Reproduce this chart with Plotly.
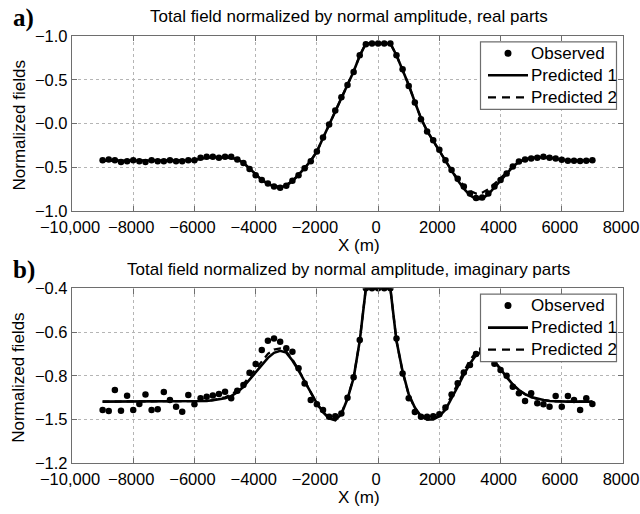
import plotly.graph_objects as go

# Profile positions (m)
x_pos = [-9000 + 200 * i for i in range(81)]

# Real parts: observed and two predicted models
obs_re = [-0.42, -0.41, -0.42, -0.44, -0.43, -0.42, -0.43, -0.44, -0.42, -0.43,
          -0.43, -0.42, -0.43, -0.43, -0.42, -0.42, -0.39, -0.38, -0.38, -0.39,
          -0.38, -0.38, -0.41, -0.45, -0.52, -0.59, -0.645, -0.685, -0.72, -0.733,
          -0.71, -0.655, -0.59, -0.51, -0.43, -0.32, -0.16, -0.01, 0.15, 0.30,
          0.44, 0.59, 0.78, 0.905, 0.915, 0.915, 0.915, 0.915, 0.78, 0.62,
          0.43, 0.24, 0.05, -0.09, -0.19, -0.30, -0.42, -0.53, -0.63, -0.72,
          -0.80, -0.85, -0.845, -0.80, -0.72, -0.645, -0.57, -0.49, -0.435, -0.41,
          -0.40, -0.39, -0.38, -0.39, -0.40, -0.415, -0.425, -0.425, -0.428, -0.425,
          -0.42]
pred1_re = [-0.425, -0.425, -0.425, -0.425, -0.425, -0.425, -0.425, -0.425, -0.425, -0.425,
            -0.425, -0.425, -0.425, -0.425, -0.425, -0.42, -0.40, -0.39, -0.385, -0.385,
            -0.385, -0.39, -0.41, -0.45, -0.515, -0.585, -0.645, -0.69, -0.72, -0.73,
            -0.71, -0.66, -0.59, -0.51, -0.425, -0.32, -0.165, -0.01, 0.15, 0.30,
            0.445, 0.595, 0.775, 0.915, 0.915, 0.915, 0.915, 0.915, 0.78, 0.62,
            0.44, 0.245, 0.06, -0.085, -0.20, -0.315, -0.43, -0.545, -0.65, -0.745,
            -0.82, -0.865, -0.86, -0.81, -0.73, -0.65, -0.57, -0.495, -0.44, -0.41,
            -0.395, -0.388, -0.385, -0.39, -0.40, -0.415, -0.425, -0.425, -0.425, -0.425,
            -0.425]
pred2_re = [-0.425, -0.425, -0.425, -0.425, -0.425, -0.425, -0.425, -0.425, -0.425, -0.425,
            -0.425, -0.425, -0.425, -0.425, -0.425, -0.42, -0.40, -0.39, -0.385, -0.385,
            -0.385, -0.39, -0.41, -0.45, -0.515, -0.585, -0.645, -0.69, -0.715, -0.72,
            -0.70, -0.655, -0.59, -0.51, -0.425, -0.32, -0.165, -0.01, 0.15, 0.30,
            0.445, 0.595, 0.775, 0.915, 0.915, 0.915, 0.915, 0.915, 0.78, 0.62,
            0.44, 0.245, 0.06, -0.085, -0.20, -0.315, -0.43, -0.54, -0.63, -0.71,
            -0.77, -0.80, -0.79, -0.75, -0.69, -0.625, -0.56, -0.49, -0.44, -0.41,
            -0.395, -0.388, -0.385, -0.39, -0.40, -0.415, -0.425, -0.425, -0.425, -0.425,
            -0.425]

# Imaginary parts: observed and two predicted models
obs_im = [-0.956, -0.961, -0.865, -0.960, -0.891, -0.956, -0.929, -0.885, -0.956, -0.953,
          -0.874, -0.911, -0.941, -0.964, -0.888, -0.930, -0.903, -0.896, -0.890, -0.883,
          -0.873, -0.903, -0.868, -0.842, -0.786, -0.746, -0.682, -0.640, -0.629, -0.644,
          -0.674, -0.690, -0.766, -0.835, -0.911, -0.930, -0.956, -0.987, -0.985, -0.972,
          -0.900, -0.807, -0.636, -0.40, -0.40, -0.40, -0.40, -0.40, -0.629, -0.789,
          -0.903, -0.965, -0.987, -0.987, -0.985, -0.976, -0.945, -0.885, -0.834, -0.785,
          -0.751, -0.700, -0.680, -0.720, -0.745, -0.774, -0.800, -0.850, -0.880, -0.915,
          -0.880, -0.926, -0.930, -0.941, -0.892, -0.941, -0.892, -0.911, -0.956, -0.903,
          -0.929]
pred1_im = [-0.918, -0.918, -0.918, -0.918, -0.918, -0.918, -0.918, -0.918, -0.918, -0.918,
            -0.918, -0.918, -0.918, -0.918, -0.918, -0.918, -0.917, -0.915, -0.912, -0.908,
            -0.903, -0.893, -0.875, -0.850, -0.818, -0.785, -0.750, -0.718, -0.695, -0.686,
            -0.694, -0.730, -0.775, -0.825, -0.875, -0.926, -0.965, -0.995, -1.003, -0.975,
            -0.905, -0.810, -0.640, -0.40, -0.40, -0.40, -0.40, -0.40, -0.640, -0.780,
            -0.885, -0.945, -0.985, -1.000, -1.000, -0.985, -0.955, -0.905, -0.850, -0.795,
            -0.745, -0.705, -0.688, -0.700, -0.735, -0.775, -0.810, -0.840, -0.865, -0.884,
            -0.897, -0.905, -0.911, -0.915, -0.917, -0.918, -0.918, -0.918, -0.918, -0.918,
            -0.918]
pred2_im = [-0.918, -0.918, -0.918, -0.918, -0.918, -0.918, -0.918, -0.918, -0.918, -0.918,
            -0.918, -0.918, -0.918, -0.918, -0.918, -0.918, -0.917, -0.915, -0.911, -0.905,
            -0.898, -0.886, -0.866, -0.838, -0.804, -0.768, -0.732, -0.700, -0.680, -0.675,
            -0.688, -0.725, -0.772, -0.825, -0.878, -0.928, -0.967, -0.995, -1.000, -0.972,
            -0.902, -0.808, -0.640, -0.40, -0.40, -0.40, -0.40, -0.40, -0.640, -0.782,
            -0.887, -0.948, -0.987, -1.000, -0.998, -0.980, -0.945, -0.890, -0.832, -0.776,
            -0.728, -0.692, -0.678, -0.692, -0.730, -0.772, -0.808, -0.840, -0.866, -0.885,
            -0.898, -0.906, -0.911, -0.915, -0.917, -0.918, -0.918, -0.918, -0.918, -0.918,
            -0.918]

x_ticks = [-10000, -8000, -6000, -4000, -2000, 0, 2000, 4000, 6000, 8000]
x_ticktext = ["\u221210,000", "\u22128000", "\u22126000", "\u22124000", "\u22122000",
              "0", "2000", "4000", "6000", "8000"]
y_ticks_re = [-1.0, -0.5, 0.0, 0.5, 1.0]
y_ticktext_re = ["\u22121.0", "\u22120.5", "\u22120.0", "\u22120.5", "\u22121.0"]
y_ticks_im = [-1.2, -1.0, -0.8, -0.6, -0.4]
y_ticktext_im = ["\u22121.2", "\u22121.5", "\u22120.8", "\u22120.6", "\u22120.4"]

series_names = ["Observed", "Predicted 1", "Predicted 2"]
titles = ["Total field normalized by normal amplitude, real parts",
          "Total field normalized by normal amplitude, imaginary parts"]
panel_tags = ["a)", "b)"]

FONT = "Liberation Sans, Arial, sans-serif"
FS = 17
W, H = 640, 514
FRAME = "#6e6e6e"
DASH = "7px,5px"

def px_x(p):
    return p / W

def px_y(p):
    return 1 - p / H

fig = go.Figure()

panels = [
    (obs_re, pred1_re, pred2_re, "x", "y"),
    (obs_im, pred1_im, pred2_im, "x2", "y2"),
]
for obs, p1, p2, xa, ya in panels:
    fig.add_trace(go.Scatter(x=x_pos, y=obs, mode="markers", name=series_names[0],
                             marker=dict(color="black", size=6.5),
                             xaxis=xa, yaxis=ya, showlegend=False))
    fig.add_trace(go.Scatter(x=x_pos, y=p1, mode="lines", name=series_names[1],
                             line=dict(color="black", width=2.6),
                             xaxis=xa, yaxis=ya, showlegend=False))
    fig.add_trace(go.Scatter(x=x_pos, y=p2, mode="lines", name=series_names[2],
                             line=dict(color="black", width=2.2, dash=DASH),
                             xaxis=xa, yaxis=ya, showlegend=False))

# Plot-area boxes in pixels: (left, right, top, bottom)
boxes = [(72, 623, 36, 211), (72, 623, 288.3, 463.3)]

axis_common = dict(
    showline=True, linecolor=FRAME, linewidth=1.4, mirror="ticks",
    ticks="inside", ticklen=5, tickcolor=FRAME, tickwidth=1,
    showgrid=True, gridcolor="#b5b5b5", griddash="dot", gridwidth=1,
    zeroline=False, automargin=False, ticklabeloverflow="allow",
    tickfont=dict(family=FONT, size=16.5, color="black"),
)

for i, (l, r, t, b) in enumerate(boxes):
    sfx = "" if i == 0 else "2"
    yt = (y_ticks_re, y_ticktext_re) if i == 0 else (y_ticks_im, y_ticktext_im)
    yr = [-1.0, 1.0] if i == 0 else [-1.2, -0.4]
    fig.layout["xaxis" + sfx] = dict(
        axis_common, domain=[px_x(l), px_x(r)], range=[-10000, 8000],
        tickvals=x_ticks, ticktext=x_ticktext, anchor="y" + sfx,
        ticklabelstandoff=1, ticklabelshift=-2,
    )
    fig.layout["yaxis" + sfx] = dict(
        axis_common, domain=[px_y(b), px_y(t)], range=yr,
        tickvals=yt[0], ticktext=yt[1], anchor="x" + sfx,
    )

annotations = []
shapes = []
for i, (l, r, t, b) in enumerate(boxes):
    cx = (l + r) / 2
    annotations.append(dict(text=titles[i], x=px_x(cx + 1), y=px_y(t - 19),
                            xref="paper", yref="paper", showarrow=False,
                            font=dict(family=FONT, size=FS, color="black"),
                            xanchor="center", yanchor="middle"))
    annotations.append(dict(text="<b>" + panel_tags[i] + "</b>", x=px_x(11), y=px_y(t - 18),
                            xref="paper", yref="paper", showarrow=False,
                            font=dict(family="Liberation Serif, Times New Roman, serif",
                                      size=25, color="black"),
                            xanchor="left", yanchor="middle"))
    annotations.append(dict(text="X (m)", x=px_x(359), y=px_y(b + 34),
                            xref="paper", yref="paper", showarrow=False,
                            font=dict(family=FONT, size=FS, color="black"),
                            xanchor="center", yanchor="middle"))
    annotations.append(dict(text="Normalized fields", x=px_x(19), y=px_y((t + b) / 2 + 2),
                            xref="paper", yref="paper", showarrow=False, textangle=-90,
                            font=dict(family=FONT, size=FS, color="black"),
                            xanchor="center", yanchor="middle"))

    # Legend box with one row per series
    lx0, lx1 = 480.5, 616.5
    ly0 = t + 5.8
    ly1 = ly0 + 67.5
    shapes.append(dict(type="rect", xref="paper", yref="paper",
                       x0=px_x(lx0), x1=px_x(lx1), y0=px_y(ly1), y1=px_y(ly0),
                       fillcolor="white", line=dict(color=FRAME, width=1.2), layer="above"))
    for k, name in enumerate(series_names):
        ry = ly0 + 11.5 + 22 * k
        if k == 0:
            shapes.append(dict(type="circle", xref="paper", yref="paper",
                               x0=px_x(504.5), x1=px_x(511.5), y0=px_y(ry + 3.5), y1=px_y(ry - 3.5),
                               fillcolor="black", line=dict(color="black", width=0), layer="above"))
        else:
            shapes.append(dict(type="line", xref="paper", yref="paper",
                               x0=px_x(488), x1=px_x(528), y0=px_y(ry), y1=px_y(ry),
                               line=dict(color="black", width=2.6 if k == 1 else 2.2,
                                         dash="solid" if k == 1 else "8px,6px"),
                               layer="above"))
        annotations.append(dict(text=name, x=px_x(529), y=px_y(ry),
                                xref="paper", yref="paper", showarrow=False,
                                font=dict(family=FONT, size=FS, color="black"),
                                xanchor="left", yanchor="middle"))

fig.update_layout(
    width=W, height=H,
    margin=dict(l=0, r=0, t=0, b=0, autoexpand=False),
    paper_bgcolor="white", plot_bgcolor="white",
    showlegend=False,
    annotations=annotations,
    shapes=shapes,
)

fig.write_html("out.html")
